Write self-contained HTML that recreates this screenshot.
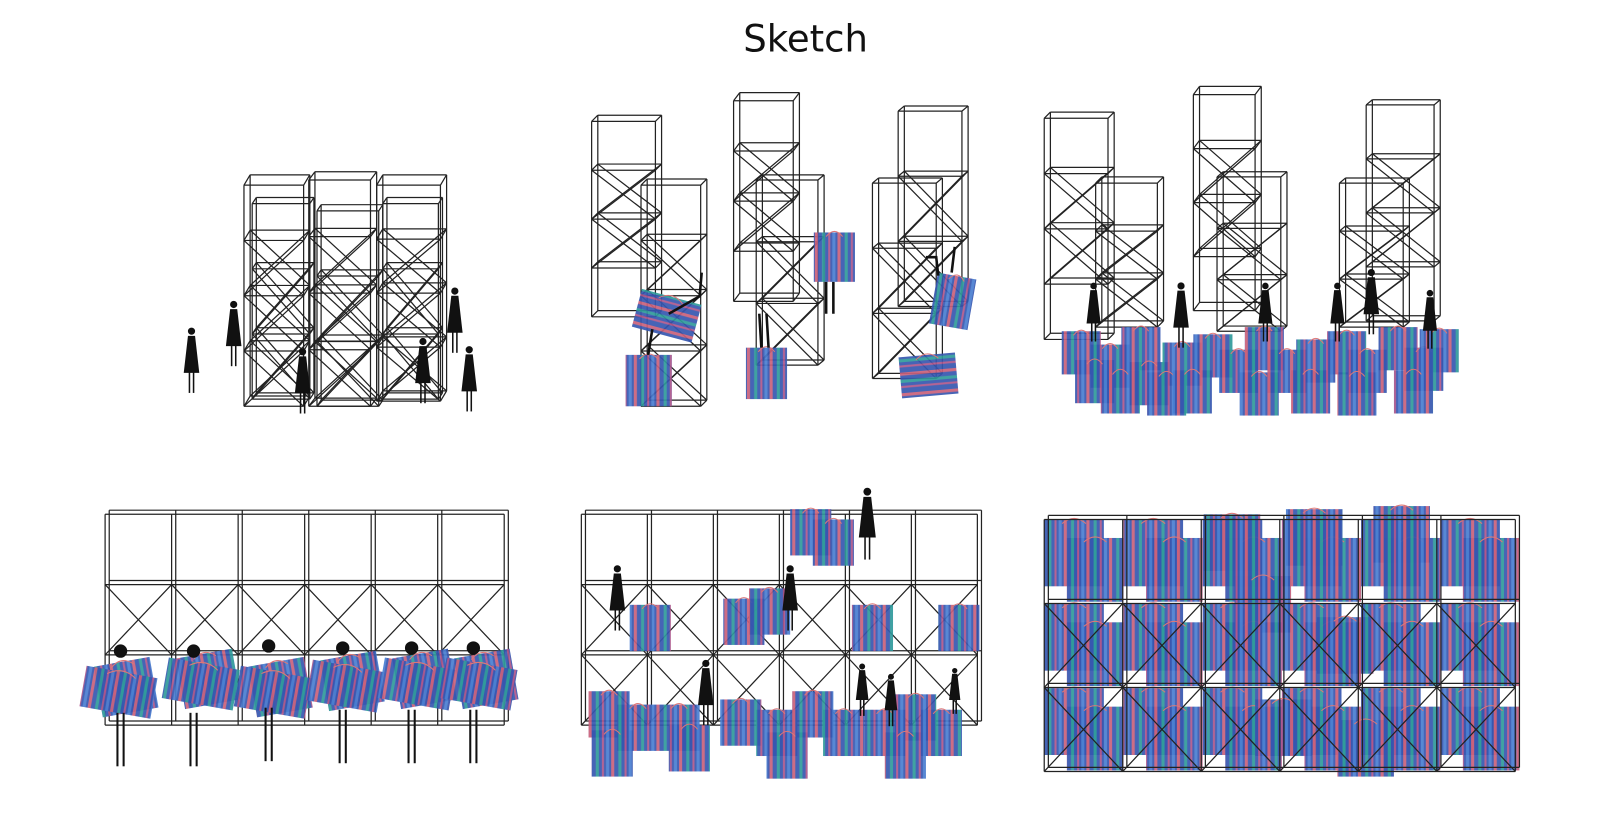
<!DOCTYPE html>
<html><head><meta charset="utf-8"><style>
html,body{margin:0;padding:0;background:#fff;width:1605px;height:827px;overflow:hidden}
svg{display:block}
</style></head><body>
<svg id="s" width="1605" height="827" viewBox="0 0 1560 804" xmlns="http://www.w3.org/2000/svg">
<defs>
<pattern id="st" width="22" height="10" patternUnits="userSpaceOnUse">
<rect width="22" height="10" fill="#3656b0"/>
<rect x="0" width="3" height="10" fill="#c9607a"/>
<rect x="7" width="3" height="10" fill="#2f9a9a"/>
<rect x="13" width="2" height="10" fill="#b0568a"/>
<rect x="17" width="3" height="10" fill="#4a7ed0"/>
</pattern>
<pattern id="sh" width="10" height="20" patternUnits="userSpaceOnUse">
<rect width="10" height="20" fill="#3656b0"/>
<rect y="0" width="10" height="3" fill="#c9607a"/>
<rect y="7" width="10" height="3" fill="#2f9a9a"/>
<rect y="13" width="10" height="2" fill="#b0568a"/>
</pattern>
</defs>
<text x="783" y="50" text-anchor="middle" font-family="DejaVu Sans, Liberation Sans, sans-serif" font-size="36" fill="#111">Sketch</text>
<g id="g" fill="none" stroke="#222" stroke-width="1.2"></g>
</svg>
<script>
const g=document.getElementById('g');let h='';
function L(a,b,c,d){h+=`<line x1="${a}" y1="${b}" x2="${c}" y2="${d}"/>`;}
function tower(x,y,w,H,lv,dx=6,dy=-5,xs=[1,2]){
 for(const o of [[0,0],[dx,dy]]){const X=x+o[0],Y=y+o[1];
  L(X,Y,X,Y+H);L(X+w,Y,X+w,Y+H);}
 const step=H/lv;
 for(let i=0;i<=lv;i++){const yy=y+i*step;L(x,yy,x+w,yy);L(x+dx,yy+dy,x+w+dx,yy+dy);L(x,yy,x+dx,yy+dy);L(x+w,yy,x+w+dx,yy+dy);}
 for(const i of xs){if(i>=lv)continue;const y0=y+i*step,y1=y0+step;L(x,y0,x+w,y1);L(x+w,y0,x,y1);L(x+dx,y0+dy,x+w+dx,y1+dy);L(x+w+dx,y0+dy,x+dx,y1+dy);}
}
function grid(x,y,w,H,cols,rows,xr){
 const cw=w/cols,rh=H/rows;
 for(let i=0;i<=cols;i++){L(x+i*cw,y,x+i*cw,y+H);L(x+i*cw+4,y-4,x+i*cw+4,y+H-4);}
 for(let j=0;j<=rows;j++){L(x,y+j*rh,x+w,y+j*rh);L(x+4,y+j*rh-4,x+w+4,y+j*rh-4);}
 for(let i=0;i<cols;i++)for(const j of xr){const x0=x+i*cw,y0=y+j*rh;L(x0,y0,x0+cw,y0+rh);L(x0+cw,y0,x0,y0+rh);}
}
let b='';
function bag(x,y,w,H,r=0,v=1){b+=`<g transform="rotate(${r} ${x+w/2} ${y+H/2})"><rect x="${x}" y="${y}" width="${w}" height="${H}" fill="url(#${v?'st':'sh'})" opacity="0.92"/><path d="M${x+w*0.3} ${y+4} q${w*0.2} -10 ${w*0.4} 0" stroke="#d77" fill="none"/></g>`;}
let f='';
function fig(x,y,s=1){f+=`<g fill="#111" stroke="#111"><circle cx="${x}" cy="${y}" r="${3*s}"/><path d="M${x-3*s} ${y+5*s} L${x+3*s} ${y+5*s} L${x+7*s} ${y+40*s} L${x-7*s} ${y+40*s}Z"/><line x1="${x-2*s}" y1="${y+40*s}" x2="${x-2*s}" y2="${y+60*s}" stroke-width="1.5"/><line x1="${x+2*s}" y1="${y+40*s}" x2="${x+2*s}" y2="${y+60*s}" stroke-width="1.5"/></g>`;}
tower(237,180,58,215,4,6,-10,[1,2,3]);tower(300,175,60,220,4,6,-8,[1,2,3]);tower(366,180,62,210,4,6,-10,[1,2,3]);
tower(245,198,56,190,3,4,-6,[1,2]);tower(308,205,60,190,3,4,-6,[1,2]);tower(372,198,54,190,3,4,-6,[1,2]);
fig(186,322);fig(227,296);fig(294,342);fig(442,283);fig(411,332);fig(456,340);
tower(575,118,62,190,4,6,-6,[1,2]);tower(623,180,58,215,4,6,-6,[1,2,3]);tower(713,98,58,195,4,6,-8,[1,2]);
tower(735,175,60,180,3,6,-5,[1,2]);tower(848,178,62,190,3,6,-5,[1,2]);tower(873,108,62,190,3,6,-5,[1,2]);
bag(618,288,60,38,15,0);bag(608,345,45,50,0);bag(791,226,40,48,0);bag(725,338,40,50,0);bag(907,268,38,50,10);bag(875,345,55,40,-5,0);
f+=`<g stroke="#111" stroke-width="2.5" fill="none"><path d="M630 345 L634 320"/><path d="M650 305 L680 288 L682 265"/><path d="M740 338 L738 305 M747 338 L745 305"/><path d="M803 274 L803 305 M810 274 L810 305"/><path d="M912 268 L910 250 L900 250 M925 265 L928 240"/></g>`;
tower(1015,115,62,215,4,6,-6,[1,2]);tower(1065,178,60,140,3,6,-6,[1,2]);tower(1160,92,60,210,4,6,-8,[1,2]);
tower(1183,172,62,150,3,6,-5,[1,2]);tower(1302,178,62,140,3,6,-5,[1,2]);tower(1328,102,66,210,4,6,-5,[1,2]);
const p3=[[1032,322],[1060,335],[1090,318],[1045,350],[1098,352],[1130,333],[1160,325],[1185,340],[1115,362],[1210,318],[1232,340],[1260,330],[1290,322],[1310,340],[1340,318],[1365,338],[1380,320],[1205,362],[1255,360],[1300,362],[1355,360],[1070,360],[1140,360]];
for(const[a,c] of p3)bag(a,c,38,42);
fig(1063,278,0.9);fig(1148,278,1);fig(1230,278,0.9);fig(1300,278,0.9);fig(1333,265,1);fig(1390,285,0.9);
grid(102,500,388,205,6,3,[1]);
const p4=[[80,648],[160,640],[230,648],[300,642],[370,640],[430,640]];
for(const[a,c] of p4){bag(a+15,c-5,55,50,-10);bag(a,c+5,70,40,10,1);}
for(const[a,c] of [[117,633],[188,633],[261,628],[333,630],[400,630],[460,630]])f+=`<g fill="#111" stroke="#111"><circle cx="${a}" cy="${c}" r="6"/><line x1="${a-3}" y1="${c+60}" x2="${a-3}" y2="${c+112}" stroke-width="2"/><line x1="${a+3}" y1="${c+60}" x2="${a+3}" y2="${c+112}" stroke-width="2"/></g>`;
grid(565,500,385,205,6,3,[1,2]);
for(const[a,c] of [[768,495],[790,505],[612,588],[703,582],[728,572],[828,588],[912,588],[572,672],[600,685],[640,685],[700,680],[735,690],[770,672],[800,690],[840,690],[870,675],[895,690],[650,705],[745,712],[575,710],[860,712]])bag(a,c,40,45);
fig(843,478,1.1);fig(600,553,1);fig(768,553,1);fig(686,645,1);fig(838,648,0.8);fig(866,658,0.8);fig(928,652,0.7);
for(let r=0;r<3;r++)for(let c=0;c<6;c++){const x=1015+c*77,y=505+r*82;bag(x,y,58,65);bag(x+22,y+18,55,62);}
for(const[a,c] of [[1170,500],[1250,495],[1335,492],[1200,560],[1280,600],[1220,680],[1300,700]])bag(a,c,55,55);
g.innerHTML=h;
document.getElementById('s').insertAdjacentHTML('beforeend','<g>'+b+'</g><g>'+f+'</g><g fill="none" stroke="#222" stroke-width="1.2" id="g2"></g>');
h='';grid(1015,505,458,245,6,3,[1,2]);document.getElementById('g2').innerHTML=h;
</script>
</body></html>
